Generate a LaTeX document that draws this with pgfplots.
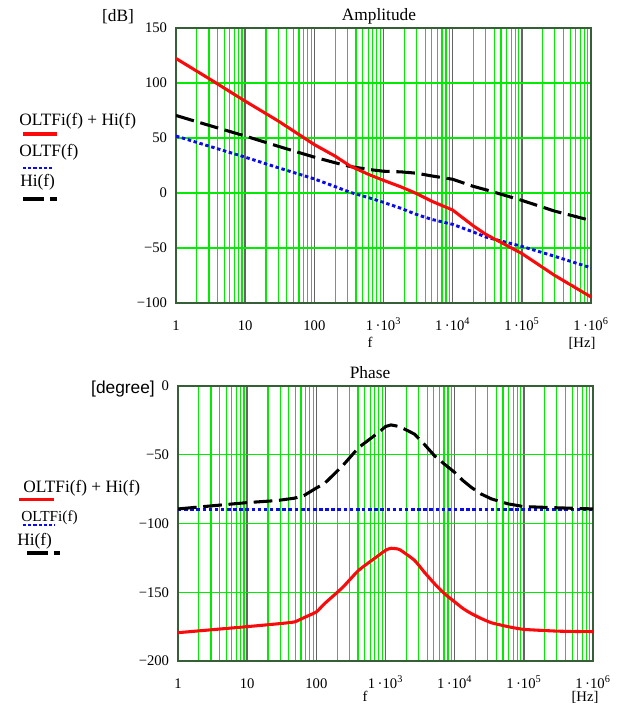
\documentclass[border=0pt]{standalone}
\usepackage{fontspec}
\setmainfont{Liberation Serif}
\newfontfamily\arialfont{Liberation Sans}
\usepackage{pgfplots}
\pgfplotsset{compat=1.18}

\definecolor{mgreen}{RGB}{0,235,0}
\definecolor{frm}{RGB}{55,95,55}
\definecolor{dgray}{RGB}{100,100,100}
\definecolor{mred}{RGB}{250,10,10}
\definecolor{mblue}{RGB}{10,10,235}

% amplitude in dB
\pgfplotstableread{
f       oltf   hi     sum
1       51.8   70.5   122.3
3       42.6   61.5   104.0
10      32.6   51.8   83.5
30      23.0   42.5   65.5
100     12.8   32.6   44.0
200     5.8    27.5   33.5
330     0.6    24.1   24.5
630     -4.5   21.3   16.5
1000    -8.5   19.8   11.5
1800    -14.0  19.2   5.5
3000    -19.5  18.0   -0.5
5000    -24.0  15.5   -7.5
10000   -28.5  12.5   -15.5
20000   -35.5  6.0    -30.0
30000   -40.0  3.0    -37.5
100000  -48.5  -6.7   -55.0
300000  -57.6  -16.5  -75.0
1000000 -68.0  -25.0  -94.5
}\amp

% phase in degree
\pgfplotstableread{
f       oltfi  hi     sum
1       -90    -89.4  -179.4
10      -90    -84.8  -175.0
27      -90    -83.3  -173.0
48      -90    -81.6  -171.6
66      -90    -79.7  -168.5
100     -90    -74.2  -164.3
132     -90    -70.8  -158.2
240     -90    -58.0  -146.5
410     -90    -44.7  -134.0
794     -90    -33.8  -123.2
1000    -90    -29.5  -119.5
1200    -90    -28.3  -118.0
1600    -90    -29.5  -119.0
2630    -90    -35.0  -126.8
3630    -90    -42.3  -135.3
5100    -90    -50.7  -143.7
7100    -90    -56.8  -151.0
10000   -90    -62.8  -157.0
13200   -90    -68.8  -161.8
17400   -90    -73.7  -165.5
24000   -90    -78.5  -169.0
34000   -90    -82.1  -172.2
59000   -90    -85.7  -175.0
100000  -90    -87.7  -177.0
316000  -90    -88.6  -178.3
1000000 -90    -89.4  -178.7
}\pha

\tikzset{
  sred/.style={mred, line width=2.3pt, line join=round},
  sblue/.style={mblue, line width=2.2pt, dash pattern=on 2.6pt off 2pt},
  sblack/.style={black, line width=2.3pt, dash pattern=on 14pt off 5pt},
}
\newcommand\bigf{\fontsize{13}{15}\selectfont}
\newcommand\midf{\fontsize{11}{13}\selectfont}

\begin{document}
\begin{tikzpicture}
\path[use as bounding box] (0,0) rectangle (472.5pt,-533.25pt);

\begin{axis}[at={(132pt,-21pt)}, anchor=north west,
  scale only axis, width=311.25pt, height=206.25pt,
  xmode=log, xmin=1, xmax=1e6,
  xtick={1,10,100,1000,10000,100000,1000000},
  xticklabels={1,10,100,{1\,·10\textsuperscript{3}},{1\,·10\textsuperscript{4}},{1\,·10\textsuperscript{5}},{1\,·10\textsuperscript{6}}},
  xmajorgrids, xminorgrids, ymajorgrids,
  grid style={mgreen, line width=0.9pt},
  minor grid style={mgreen, line width=0.9pt},
  major x grid style={dgray, line width=1.1pt},
  minor x grid style={mgreen, line width=0.9pt},
  major y grid style={mgreen, line width=1.1pt},
  axis line style={frm, line width=1pt},
  tick style={draw=none},
  ticklabel style={font=\midf},
  xticklabel style={anchor=base, inner sep=0pt, yshift=-20.3pt},
  yticklabel style={anchor=east, inner sep=0pt, xshift=-6.5pt},
  ymin=-100, ymax=150, ytick={-100,-50,0,50,100,150},
  yticklabels={−100,−50,0,50,100,150}]
  \addplot[sblue] table[x=f, y=oltf] {\amp};
  \addplot[sblack] table[x=f, y=hi] {\amp};
  \addplot[sred] table[x=f, y=sum] {\amp};
\end{axis}

\begin{axis}[at={(133.5pt,-289.5pt)}, anchor=north west,
  scale only axis, width=311.25pt, height=206.25pt,
  xmode=log, xmin=1, xmax=1e6,
  xtick={1,10,100,1000,10000,100000,1000000},
  xticklabels={1,10,100,{1\,·10\textsuperscript{3}},{1\,·10\textsuperscript{4}},{1\,·10\textsuperscript{5}},{1\,·10\textsuperscript{6}}},
  xmajorgrids, xminorgrids, ymajorgrids,
  grid style={mgreen, line width=0.9pt},
  minor grid style={mgreen, line width=0.9pt},
  major x grid style={dgray, line width=1.1pt},
  minor x grid style={mgreen, line width=0.9pt},
  major y grid style={mgreen, line width=1.1pt},
  axis line style={frm, line width=1pt},
  tick style={draw=none},
  ticklabel style={font=\midf},
  xticklabel style={anchor=base, inner sep=0pt, yshift=-20.3pt},
  yticklabel style={anchor=east, inner sep=0pt, xshift=-6.5pt},
  ymin=-200, ymax=0, ytick={-200,-150,-100,-50,0},
  yticklabels={−200,−150,−100,−50,0}]
  \addplot[sblue] table[x=f, y=oltfi] {\pha};
  \addplot[sblack] table[x=f, y=hi] {\pha};
  \addplot[sred, smooth, tension=0.3] table[x=f, y=sum] {\pha};
\end{axis}

\begin{scope}[x=0.75pt, y=-0.75pt, every node/.style={inner sep=0pt}]
  % top
  \node[anchor=base] at (118,21) {\bigf [dB]};
  \node[anchor=base] at (379,20) {\bigf Amplitude};
  \node[anchor=base] at (370,347) {\midf f};
  \node[anchor=base] at (582,347) {\midf [Hz]};
  \node[anchor=base west] at (19,125) {\bigf OLTFi(f) + Hi(f)};
  \draw[mred, line width=2.6pt] (23,134) -- (57,134);
  \node[anchor=base west] at (19,156) {\bigf OLTF(f)};
  \draw[mblue, line width=2.2pt, dash pattern=on 2.4pt off 1.5pt] (23,168) -- (53,168);
  \node[anchor=base west] at (20,186) {\bigf Hi(f)};
  \draw[black, line width=2.4pt, dash pattern=on 15.5pt off 5pt] (23,199) -- (57,199);
  % bottom
  \node[anchor=base] at (123,393) {\arialfont\bigf [degree]};
  \node[anchor=base] at (370,378) {\bigf Phase};
  \node[anchor=base] at (365,701) {\midf f};
  \node[anchor=base] at (585,701) {\midf [Hz]};
  \node[anchor=base west] at (23,492.5) {\bigf OLTFi(f) + Hi(f)};
  \draw[mred, line width=2.6pt] (19,499.5) -- (54,499.5);
  \node[anchor=base west] at (21,521) {\fontsize{11.5}{13}\selectfont OLTFi(f)};
  \draw[mblue, line width=2.2pt, dash pattern=on 2.4pt off 1.5pt] (23,525) -- (55,525);
  \node[anchor=base west] at (17,545) {\bigf Hi(f)};
  \draw[black, line width=2.4pt, dash pattern=on 15.5pt off 5pt] (27,553) -- (60,553);
\end{scope}
\end{tikzpicture}
\end{document}
